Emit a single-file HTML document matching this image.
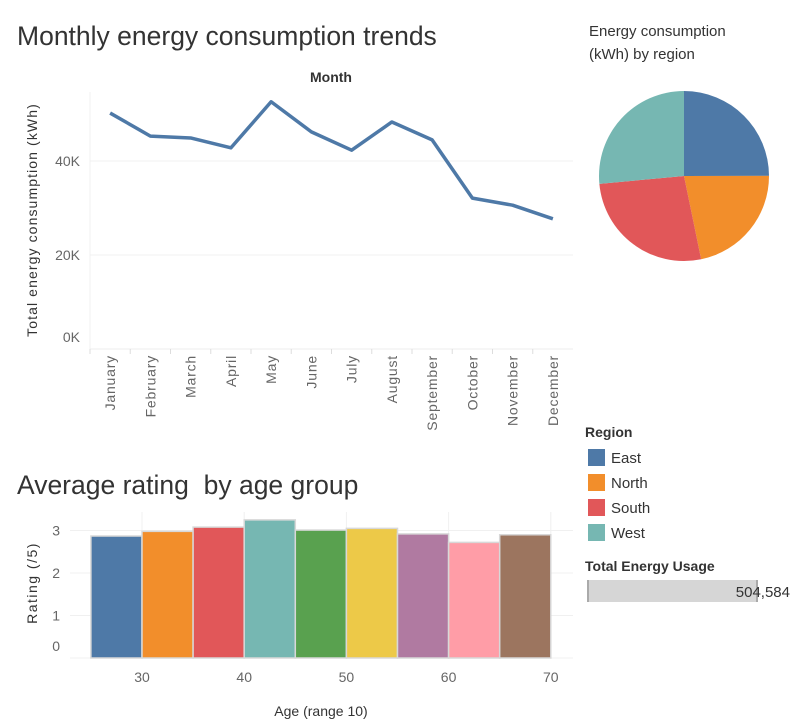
<!DOCTYPE html>
<html><head><meta charset="utf-8"><style>
body{margin:0;background:#fff;font-family:"Liberation Sans",sans-serif;}
svg text{font-family:"Liberation Sans",sans-serif;}
</style></head><body>
<svg id="s" width="801" height="723" xmlns="http://www.w3.org/2000/svg">
<text x="17" y="45" font-size="26.5" fill="#333">Monthly energy consumption trends</text>
<text x="331" y="82" font-size="14" font-weight="bold" fill="#333" text-anchor="middle">Month</text>
<text transform="translate(37,220) rotate(-90)" font-size="14" letter-spacing="1.1" fill="#333" text-anchor="middle">Total energy consumption (kWh)</text>
<g id="line"></g>
<text x="17" y="494" font-size="26.5" fill="#333">Average rating&#160; by age group</text>
<text transform="translate(37,583) rotate(-90)" font-size="14" letter-spacing="1.5" fill="#333" text-anchor="middle">Rating (/5)</text>
<text x="321" y="716" font-size="14" fill="#333" text-anchor="middle">Age (range 10)</text>
<g id="bars"></g>
<text x="589" y="36" font-size="15" fill="#333">Energy consumption</text>
<text x="589" y="59" font-size="15" fill="#333">(kWh) by region</text>
<g id="pie"></g>
<text x="585" y="437" font-size="14" font-weight="bold" fill="#333">Region</text>
<g id="legend"></g>
<text x="585" y="571" font-size="14" font-weight="bold" fill="#333">Total Energy Usage</text>
<rect x="587" y="580" width="171" height="22" fill="#d6d6d6"/>
<rect x="587" y="580" width="2" height="22" fill="#aaa"/>
<rect x="756" y="580" width="2" height="22" fill="#aaa"/>
<text x="790" y="597" font-size="15" fill="#333" text-anchor="end">504,584</text>
</svg>
<script>
const months=["January","February","March","April","May","June","July","August","September","October","November","December"];
const energy=[50200,45300,44900,42800,52600,46200,42300,48300,44500,32100,30600,27700];
const yTicks=[0,20000,40000];
const yTickLabels=["0K","20K","40K"];
const ages=[30,35,40,45,50,55,60,65,70];
const ratings=[2.87,2.98,3.08,3.25,3.01,3.05,2.92,2.72,2.90];
const ratingTicks=[0,1,2,3];
const ageTicks=[30,40,50,60,70];
const regions=["East","North","South","West"];
const regionValues=[126000,110000,135000,133600];
const regionColors=["#4e79a7","#f28e2b","#e15759","#76b7b2"];
const barColors=["#4e79a7","#f28e2b","#e15759","#76b7b2","#59a14f","#edc948","#b07aa1","#ff9da7","#9c755f"];
const NS="http://www.w3.org/2000/svg";
function mk(t,a,p){const e=document.createElementNS(NS,t);for(const k in a)e.setAttribute(k,a[k]);p.appendChild(e);return e;}
const L=document.getElementById('line');
const x0=90,x1=573,yB=349,yK=4.7/1000;
const step=(x1-x0)/months.length;
const xs=i=>x0+step*(i+0.5);
const ys=v=>yB-v*yK;
yTicks.forEach((t,i)=>{
 if(t>0){const g=mk('line',{x1:x0,x2:x1,y1:ys(t),y2:ys(t),stroke:'#f0f0f0','stroke-width':1},L);
 
 }
 const tx=mk('text',{x:80,y:(t===0?yB-7:ys(t)+5),'font-size':14,fill:'#666','text-anchor':'end'},L);
 tx.textContent=yTickLabels[i];
 
 
});
const base=mk('line',{x1:x0,x2:x1,y1:yB,y2:yB,stroke:'#eee'},L);


const va=mk('line',{x1:x0,x2:x0,y1:92,y2:yB,stroke:'#f0f0f0'},L);


months.forEach((m,i)=>{
 const tk=mk('line',{x1:x0+step*i,x2:x0+step*i,y1:yB,y2:yB+5,stroke:'#ddd'},L);
 
 
 const t=mk('text',{transform:`translate(${xs(i)+5},${yB+6}) rotate(-90)`,'font-size':14,'letter-spacing':0.8,fill:'#666','text-anchor':'end'},L);
 t.textContent=m;
 
 
});
const pl=mk('polyline',{points:energy.map((v,i)=>xs(i)+','+ys(v)).join(' '),fill:'none',stroke:'#4e79a7','stroke-width':3.5,'stroke-linejoin':'round'},L);


const B=document.getElementById('bars');
const bx0=70,bx1=573,bB=658,rK=42.5;
const ax=a=>142+(a-30)*10.22;
const ry=v=>bB-v*rK;
ratingTicks.forEach(t=>{
 const g=mk('line',{x1:bx0,x2:bx1,y1:ry(t),y2:ry(t),stroke:'#f0f0f0'},B);
 
 
 const tx=mk('text',{x:60,y:(t===0?ry(t)-7:ry(t)+5),'font-size':14,fill:'#666','text-anchor':'end'},B);
 tx.textContent=t;
 
 
});
ageTicks.forEach(a=>{
 const g=mk('line',{x1:ax(a),x2:ax(a),y1:512,y2:bB,stroke:'#f0f0f0'},B);
 
 
 const tx=mk('text',{x:ax(a),y:682,'font-size':14,fill:'#666','text-anchor':'middle'},B);
 tx.textContent=a;
 
 
});
ages.forEach((a,i)=>{
 const r=mk('rect',{x:ax(a-5),y:ry(ratings[i]),width:ax(a)-ax(a-5),height:bB-ry(ratings[i]),fill:barColors[i],stroke:'#d8d8d8','stroke-width':1.5},B);
 
 
});
const P=document.getElementById('pie');
const cx=684,cy=176,R=85;
const tot=regionValues.reduce((a,b)=>a+b,0);
let ang=0;
regionValues.forEach((v,i)=>{
 const a0=ang,a1=ang+v/tot*2*Math.PI;ang=a1;
 const p0=[cx+R*Math.sin(a0),cy-R*Math.cos(a0)],p1=[cx+R*Math.sin(a1),cy-R*Math.cos(a1)];
 const big=(a1-a0)>Math.PI?1:0;
 const s=mk('path',{d:`M${cx},${cy}L${p0[0]},${p0[1]}A${R},${R} 0 ${big} 1 ${p1[0]},${p1[1]}Z`,fill:regionColors[i]},P);
 
 
});
const G=document.getElementById('legend');
regions.forEach((r,i)=>{
 const y=449+i*25;
 const sw=mk('rect',{x:588,y:y,width:17,height:17,fill:regionColors[i]},G);
 
 
 const t=mk('text',{x:611,y:y+14,'font-size':15,fill:'#333'},G);
 t.textContent=r;
 
 
});
</script>
</body></html>
